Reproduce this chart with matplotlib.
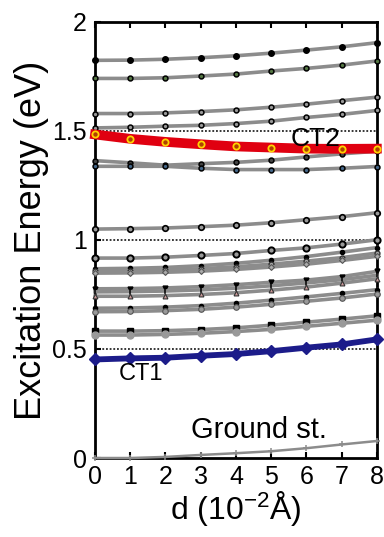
import matplotlib
matplotlib.use("Agg")
import matplotlib.pyplot as plt
import numpy as np

plt.rcParams["font.family"] = ["Liberation Sans", "DejaVu Sans"]
plt.rcParams["mathtext.default"] = "regular"

d = [0, 1, 2, 3, 4, 5, 6, 7, 8]

# upper excited states
s_182 = [1.824, 1.825, 1.829, 1.836, 1.845, 1.857, 1.871, 1.886, 1.905]
s_174 = [1.741, 1.741, 1.744, 1.752, 1.761, 1.775, 1.787, 1.802, 1.821]
s_158 = [1.580, 1.580, 1.583, 1.589, 1.597, 1.609, 1.623, 1.639, 1.655]
s_151 = [1.514, 1.517, 1.522, 1.526, 1.534, 1.545, 1.562, 1.576, 1.594]
s_136 = [1.364, 1.354, 1.343, 1.350, 1.356, 1.366, 1.381, 1.395, 1.407]
s_134 = [1.338, 1.338, 1.338, 1.329, 1.323, 1.323, 1.323, 1.329, 1.337]
s_105 = [1.050, 1.052, 1.055, 1.061, 1.068, 1.079, 1.093, 1.107, 1.125]
s_092 = [0.917, 0.917, 0.921, 0.929, 0.938, 0.952, 0.964, 0.981, 1.001]

# middle clusters
s_087 = [0.868, 0.870, 0.874, 0.882, 0.893, 0.907, 0.924, 0.944, 0.965]
s_086 = [0.858, 0.859, 0.862, 0.868, 0.877, 0.889, 0.903, 0.919, 0.940]
s_085 = [0.848, 0.849, 0.852, 0.857, 0.865, 0.876, 0.889, 0.906, 0.925]
s_078 = [0.776, 0.777, 0.780, 0.786, 0.795, 0.806, 0.816, 0.832, 0.856]
s_076 = [0.762, 0.763, 0.766, 0.771, 0.779, 0.790, 0.803, 0.818, 0.838]
s_074 = [0.742, 0.742, 0.745, 0.750, 0.758, 0.770, 0.784, 0.802, 0.822]
s_069 = [0.687, 0.688, 0.692, 0.699, 0.710, 0.724, 0.739, 0.755, 0.772]
s_067 = [0.671, 0.672, 0.676, 0.682, 0.692, 0.705, 0.719, 0.734, 0.752]
s_058 = [0.582, 0.582, 0.584, 0.589, 0.597, 0.609, 0.623, 0.637, 0.652]
s_056 = [0.564, 0.564, 0.567, 0.572, 0.580, 0.590, 0.604, 0.618, 0.632]

ct2 = [1.484, 1.464, 1.450, 1.439, 1.429, 1.424, 1.419, 1.418, 1.419]
ct1 = [0.452, 0.457, 0.460, 0.469, 0.477, 0.490, 0.506, 0.521, 0.544]
ground = [0.000, 0.000, 0.005, 0.014, 0.022, 0.031, 0.045, 0.062, 0.078]

ref_levels = [1.5, 1.0, 0.5]
yticks = [0, 0.5, 1, 1.5, 2]
ytick_labels = ["0", "0.5", "1", "1.5", "2"]

fig = plt.figure(figsize=(3.84, 5.37), dpi=100)
ax = fig.add_axes([0.2474, 0.1471, 0.734, 0.812])

gray = "#8c8c8c"
lw = 2.6

# reference dotted lines
for lev in ref_levels:
    ax.plot([0, 8], [lev, lev], color="black", ls=(0, (1.2, 1.2)), lw=1.1, zorder=2)

styles = [
    (s_182, dict(marker="o", ms=4, mfc="black", mec="black")),
    (s_174, dict(marker="o", ms=3.5, mfc="#557744", mec="black", mew=1.1)),
    (s_158, dict(marker="o", ms=3.5, mfc="#999999", mec="black", mew=1.1)),
    (s_151, dict(marker="o", ms=3.5, mfc="#999999", mec="black", mew=1.1)),
    (s_136, dict(marker="o", ms=3.5, mfc="#444444", mec="black", mew=1.1)),
    (s_134, dict(marker="o", ms=3.5, mfc="#446688", mec="black", mew=1.1)),
    (s_105, dict(marker="o", ms=4, mfc="#999999", mec="black", mew=1.2)),
    (s_092, dict(marker="o", ms=4.5, mfc="#999999", mec="black", mew=1.4)),
    (s_087, dict(marker="o", ms=3, mfc="black", mec="black")),
    (s_086, dict(marker="o", ms=3.5, mfc="#aaaaaa", mec="#333333", mew=1.0)),
    (s_085, dict(marker="D", ms=3, mfc="#aaaaaa", mec="#555555", mew=0.8)),
    (s_078, dict(marker="v", ms=3.5, mfc="black", mec="black")),
    (s_076, dict(marker="|", ms=4, mfc="black", mec="black", mew=1.1)),
    (s_074, dict(marker="^", ms=3.5, mfc="#cc9999", mec="#333333", mew=0.8)),
    (s_069, dict(marker="o", ms=3, mfc="black", mec="black")),
    (s_067, dict(marker="o", ms=4, mfc="#999999", mec="#555555", mew=0.8)),
    (s_058, dict(marker="s", ms=4.5, mfc="black", mec="black")),
    (s_056, dict(marker="o", ms=5, mfc="#999999", mec="#999999")),
]

for ys, st in styles:
    ax.plot(d, ys, color=gray, lw=lw, clip_on=False, zorder=3, **st)

ax.plot(d, ground, color=gray, lw=1.8, marker="+", ms=4, mew=1.1,
        clip_on=False, zorder=3)

ax.plot(d, ct1, color="#1c1c8a", lw=4.2, marker="D", ms=6, mfc="#1c1c8a",
        mec="#1c1c8a", clip_on=False, zorder=5)
ax.plot(d, ct2, color="#e00010", lw=7, marker="o", ms=4.5, mfc="#b04000",
        mec="#ffd400", mew=1.3, clip_on=False, zorder=5)

ax.text(6.27, 1.462, "CT2", fontsize=19, ha="center", va="center", zorder=6)
ax.text(1.3, 0.385, "CT1", fontsize=17, ha="center", va="center", zorder=6)
ax.text(4.65, 0.128, "Ground st.", fontsize=21, ha="center", va="center", zorder=6)

ax.set_xlim(0, 8)
ax.set_ylim(0, 2)
ax.set_xticks(d)
ax.set_yticks(yticks)
ax.set_yticklabels(ytick_labels)
ax.tick_params(direction="in", length=4, width=1.5, labelsize=18,
               top=True, right=False)
ax.tick_params(axis="y", pad=6)
ax.tick_params(axis="x", pad=5)
for sp in ax.spines.values():
    sp.set_linewidth(2)

ax.set_xlabel(r"d (10$^{-2}$Å)", fontsize=23, labelpad=0)
ax.set_ylabel("Excitation Energy (eV)", fontsize=26, labelpad=2)

fig.savefig("out.png", dpi=100)
